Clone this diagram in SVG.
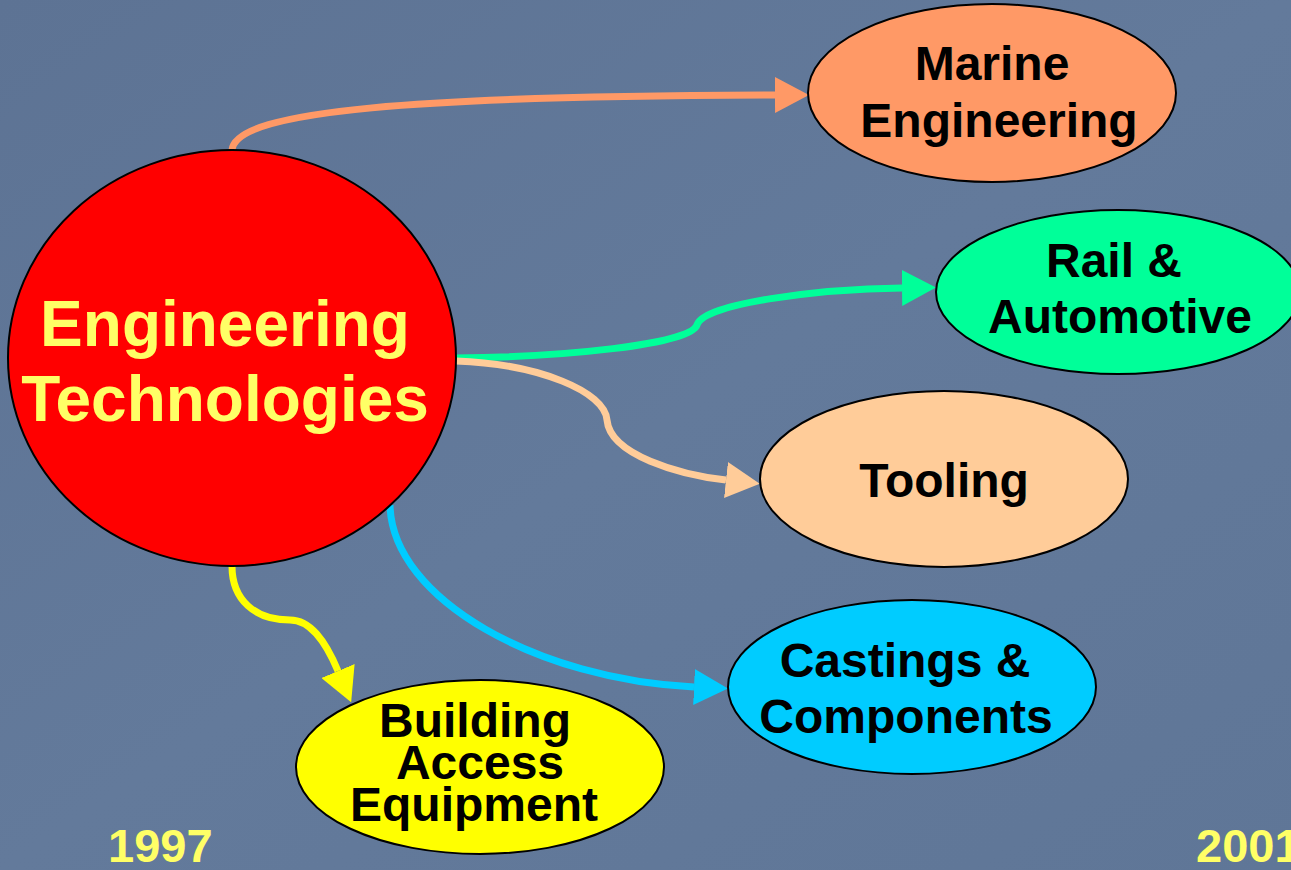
<svg xmlns="http://www.w3.org/2000/svg" width="1291" height="870" viewBox="0 0 1291 870">
<style>
.node{stroke:#000;stroke-width:2}
.lbl{font-family:"Liberation Sans",Arial,sans-serif;font-weight:bold;text-anchor:middle;fill:#000;font-size:48px}
.hub{font-family:"Liberation Sans",Arial,sans-serif;font-weight:bold;text-anchor:middle;fill:#ffff66;font-size:64px}
.year{font-family:"Liberation Sans",Arial,sans-serif;font-weight:bold;fill:#ffff66;font-size:47px}
.con{fill:none;stroke-width:7}
</style>
<defs>
<linearGradient id="bg" x1="0" y1="0" x2="1" y2="1">
<stop offset="0" stop-color="#5d7394"/>
<stop offset="0.5" stop-color="#637a9b"/>
<stop offset="1" stop-color="#5f7697"/>
</linearGradient>
<marker id="aO" markerUnits="userSpaceOnUse" markerWidth="34" markerHeight="36" viewBox="0 0 34 36" refX="0" refY="18" orient="auto"><path d="M0,0 L34,18 L0,36 z" fill="#ff9966"/></marker>
<marker id="aG" markerUnits="userSpaceOnUse" markerWidth="34" markerHeight="36" viewBox="0 0 34 36" refX="0" refY="18" orient="auto"><path d="M0,0 L34,18 L0,36 z" fill="#00ff99"/></marker>
<marker id="aT" markerUnits="userSpaceOnUse" markerWidth="34" markerHeight="36" viewBox="0 0 34 36" refX="0" refY="18" orient="auto"><path d="M0,0 L34,18 L0,36 z" fill="#ffcc99"/></marker>
<marker id="aC" markerUnits="userSpaceOnUse" markerWidth="34" markerHeight="36" viewBox="0 0 34 36" refX="0" refY="18" orient="auto"><path d="M0,0 L34,18 L0,36 z" fill="#00ccff"/></marker>
<marker id="aY" markerUnits="userSpaceOnUse" markerWidth="34" markerHeight="36" viewBox="0 0 34 36" refX="0" refY="18" orient="auto"><path d="M0,0 L34,18 L0,36 z" fill="#ffff00"/></marker>
</defs>
<rect width="1291" height="870" fill="url(#bg)"/>
<g id="connectors">
<path class="con" stroke="#ff9966" marker-end="url(#aO)" d="M232 150 C236 110 420 96 775 95"/>
<path class="con" stroke="#00ff99" marker-end="url(#aG)" d="M456 358 C560 357 690 345 697 325 C703 303 820 289 902 288"/>
<path class="con" stroke="#ffcc99" marker-end="url(#aT)" d="M456 361 C540 364 605 392 607 420 C610 455 680 475 726 480"/>
<path class="con" stroke="#00ccff" marker-end="url(#aC)" d="M390 505 C392 600 540 680 694 687"/>
<path class="con" stroke="#ffff00" marker-end="url(#aY)" d="M232 566 C232 600 255 620 290 620 C310 620 325 640 338 671"/>
</g>
<g id="engineering-technologies">
<ellipse class="node" cx="232" cy="358" rx="224" ry="208" fill="#ff0000"/>
<text class="hub" x="225" y="346">Engineering</text>
<text class="hub" x="225" y="421">Technologies</text>
</g>
<g id="marine-engineering">
<ellipse class="node" cx="992" cy="93" rx="184" ry="89" fill="#ff9966"/>
<text class="lbl" x="992" y="80">Marine</text>
<text class="lbl" x="999" y="137">Engineering</text>
</g>
<g id="rail-automotive">
<ellipse class="node" cx="1118" cy="292" rx="182" ry="82" fill="#00ff99"/>
<text class="lbl" x="1114" y="277">Rail &amp;</text>
<text class="lbl" x="1120" y="333">Automotive</text>
</g>
<g id="tooling">
<ellipse class="node" cx="944" cy="479" rx="184" ry="88" fill="#ffcc99"/>
<text class="lbl" x="944" y="497">Tooling</text>
</g>
<g id="castings-components">
<ellipse class="node" cx="912" cy="687" rx="184" ry="87" fill="#00ccff"/>
<text class="lbl" x="905" y="677">Castings &amp;</text>
<text class="lbl" x="906" y="733">Components</text>
</g>
<g id="building-access-equipment">
<ellipse class="node" cx="480" cy="767" rx="184" ry="87" fill="#ffff00"/>
<text class="lbl" x="475" y="737">Building</text>
<text class="lbl" x="480" y="779">Access</text>
<text class="lbl" x="474" y="821">Equipment</text>
</g>
<text class="year" x="108" y="862">1997</text>
<text class="year" x="1196" y="862">2001</text>
</svg>
